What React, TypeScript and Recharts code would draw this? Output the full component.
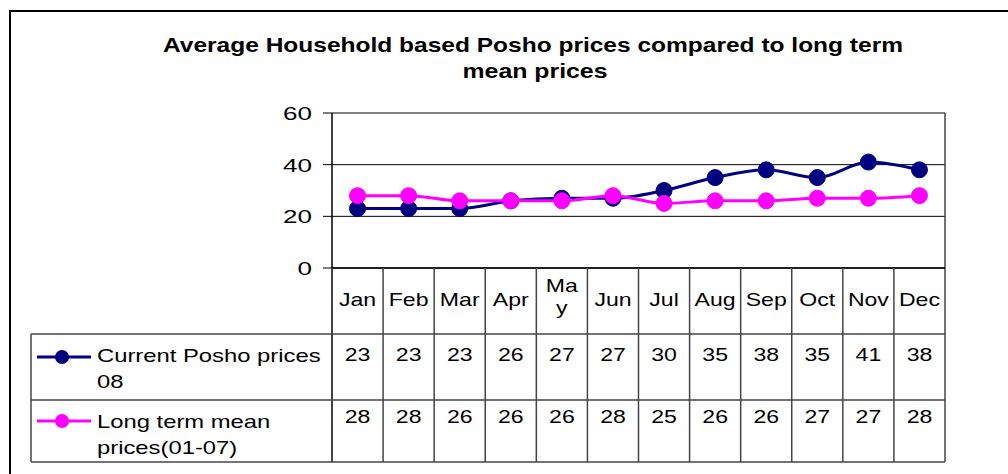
import React from 'react'
import { LineChart, Line, XAxis, YAxis, CartesianGrid, Customized } from 'recharts'

// chart data
const months = ['Jan', 'Feb', 'Mar', 'Apr', 'May', 'Jun', 'Jul', 'Aug', 'Sep', 'Oct', 'Nov', 'Dec']
const currentPrices = [23, 23, 23, 26, 27, 27, 30, 35, 38, 35, 41, 38]
const longTermPrices = [28, 28, 26, 26, 26, 28, 25, 26, 26, 27, 27, 28]
const yTicks = [0, 20, 40, 60]
const seriesNames = ['Current Posho prices 08', 'Long term mean prices(01-07)']
const seriesColors = ['#000080', '#FF00FF']
const titleLines = ['Average Household based Posho prices compared to long term', 'mean prices']

const data = months.map((m, i) => ({ month: m, current: currentPrices[i], longTerm: longTermPrices[i] }))

// layout
const W = 1008
const H = 474
const PLOT_L = 332
const PLOT_R = 945
const PLOT_T = 113
const PLOT_B = 268
const ROW1_T = 334
const ROW2_T = 400
const TABLE_B = 462
const LEG_L = 31
const COL_W = (PLOT_R - PLOT_L) / months.length
const FONT = '"Liberation Sans", Arial, sans-serif'
const GRID = '#444'
const FS = 18.6

// simple greedy wrap (Excel wraps the legend names in the data table)
const wrap = (s: string, max: number) => {
  const out: string[] = []
  let cur = ''
  s.split(' ').forEach(w => {
    const next = cur ? cur + ' ' + w : w
    if (next.length > max && cur) {
      out.push(cur)
      cur = w
    } else {
      cur = next
    }
  })
  if (cur) out.push(cur)
  return out
}

// text stretched horizontally like the original picture
const SText = ({ x, y, anchor = 'middle', sx = 1.24, children }: any) => (
  <g transform={`translate(${x},${y}) scale(${sx},1)`}>
    <text x={0} y={0} textAnchor={anchor} fontSize={FS} fontFamily={FONT} fill="#000">
      {children}
    </text>
  </g>
)

const MonthTick = (props: any) => {
  const { x, payload } = props
  const i = payload.index ?? months.indexOf(payload.value)
  const lines = payload.value === 'May' ? ['Ma', 'y'] : [payload.value]
  return (
    <g>
      <line x1={x - COL_W / 2} x2={x - COL_W / 2} y1={PLOT_B} y2={TABLE_B} stroke={GRID} strokeWidth={1.5} />
      {lines.length === 1 ? (
        <SText x={x} y={306}>{lines[0]}</SText>
      ) : (
        lines.map((l, k) => (
          <SText key={k} x={x} y={292 + k * 22}>{l}</SText>
        ))
      )}
      <SText x={x} y={361}>{currentPrices[i]}</SText>
      <SText x={x} y={423}>{longTermPrices[i]}</SText>
    </g>
  )
}

const ValueTick = (props: any) => {
  const { x, y, payload } = props
  return (
    <SText x={x - 9} y={y + 7} anchor="end" sx={1.4}>{payload.value}</SText>
  )
}

const StaticLayer = () => {
  const rowTops = [ROW1_T, ROW2_T]
  return (
    <g>
      {/* frame */}
      <line x1={9} x2={W} y1={11} y2={11} stroke="#000" strokeWidth={2} />
      <line x1={10} x2={10} y1={10} y2={H} stroke="#000" strokeWidth={2} />

      {/* title */}
      <text x={533} y={52} textAnchor="middle" fontSize={20.5} fontWeight="bold" fontFamily={FONT}
        textLength={740} lengthAdjust="spacingAndGlyphs">{titleLines[0]}</text>
      <text x={535} y={78} textAnchor="middle" fontSize={20.5} fontWeight="bold" fontFamily={FONT}
        textLength={145} lengthAdjust="spacingAndGlyphs">{titleLines[1]}</text>

      {/* plot border + data table frame */}
      <line x1={PLOT_R} x2={PLOT_R} y1={PLOT_T} y2={TABLE_B} stroke={GRID} strokeWidth={1.5} />
      <line x1={PLOT_L} x2={PLOT_L} y1={PLOT_B} y2={TABLE_B} stroke="#000" strokeWidth={1.5} />
      <line x1={LEG_L} x2={LEG_L} y1={ROW1_T} y2={TABLE_B} stroke={GRID} strokeWidth={1.5} />
      <line x1={LEG_L} x2={PLOT_R} y1={ROW1_T} y2={ROW1_T} stroke={GRID} strokeWidth={1.5} />
      <line x1={LEG_L} x2={PLOT_R} y1={ROW2_T} y2={ROW2_T} stroke={GRID} strokeWidth={1.5} />
      <line x1={LEG_L} x2={PLOT_R} y1={TABLE_B} y2={TABLE_B} stroke={GRID} strokeWidth={1.5} />

      {/* legend keys in the table */}
      {seriesNames.map((name, s) => {
        const top = rowTops[s]
        const keyY = s === 0 ? 357 : 421
        const lines = wrap(name, 20)
        return (
          <g key={name}>
            <line x1={37} x2={91} y1={keyY} y2={keyY} stroke={seriesColors[s]} strokeWidth={3} />
            <circle cx={62} cy={keyY} r={7} fill={seriesColors[s]} />
            {lines.map((l, k) => (
              <SText key={k} x={97} y={top + 28 + k * 26} anchor="start" sx={1.28}>{l}</SText>
            ))}
          </g>
        )
      })}
    </g>
  )
}

export default function App() {
  return (
    <div style={{ position: 'absolute', left: 0, top: 0, width: W, height: H, background: '#fff' }}>
      <LineChart
        width={W}
        height={H}
        data={data}
        margin={{ top: PLOT_T, right: W - PLOT_R, bottom: H - TABLE_B, left: PLOT_L - 60 }}
      >
        <CartesianGrid horizontal vertical={false} stroke="#000" strokeWidth={1} />
        <XAxis
          dataKey="month"
          padding={{ left: COL_W / 2, right: COL_W / 2 }}
          height={TABLE_B - PLOT_B}
          interval={0}
          tickLine={false}
          axisLine={{ stroke: '#000', strokeWidth: 1.5 }}
          tick={<MonthTick />}
        />
        <YAxis
          domain={[0, 60]}
          ticks={yTicks}
          width={60}
          tickSize={9}
          axisLine={{ stroke: '#000', strokeWidth: 1.5 }}
          tickLine={{ stroke: '#000' }}
          tick={<ValueTick />}
        />
        <Customized component={<StaticLayer />} />
        <Line
          type="monotone"
          dataKey="current"
          name={seriesNames[0]}
          stroke={seriesColors[0]}
          strokeWidth={3}
          dot={{ r: 8, fill: seriesColors[0], stroke: seriesColors[0], strokeWidth: 1 }}
          isAnimationActive={false}
        />
        <Line
          type="monotone"
          dataKey="longTerm"
          name={seriesNames[1]}
          stroke={seriesColors[1]}
          strokeWidth={3}
          dot={{ r: 8, fill: seriesColors[1], stroke: seriesColors[1], strokeWidth: 1 }}
          isAnimationActive={false}
        />
      </LineChart>
    </div>
  )
}
